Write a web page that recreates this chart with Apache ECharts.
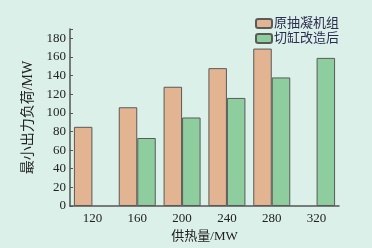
<!DOCTYPE html>
<html><head><meta charset="utf-8">
<script src="https://cdn.jsdelivr.net/npm/echarts@6/dist/echarts.min.js"></script>
<style>html,body{margin:0;padding:0;background:#dcf0ea;}#c{width:372px;height:248px;}</style>
</head><body><div id="c"></div>
<script>
const categories = ['120','160','200','240','280','320'];
const seriesNames = ['原抽凝机组','切缸改造后'];
const original = [85, 106, 128, 148, 169, null];
const retrofit = [null, 73, 95, 116, 138, 159];
const yTicks = [0,20,40,60,80,100,120,140,160,180];

const fontF = '"Liberation Serif","Noto Sans CJK SC",serif';
const chart = echarts.init(document.getElementById('c'));
chart.setOption({
  backgroundColor: '#dcf0ea',
  animation: false,
  textStyle: {fontFamily: fontF},
  legend: {
    data: seriesNames, right: 33, top: 17, orient: 'vertical',
    itemWidth: 16, itemHeight: 9, itemGap: 2, padding: 0,
    textStyle: {fontSize: 13, color: '#2c2c50', fontFamily: fontF, padding: [0,0,0,-3]}
  },
  grid: {left: 70, right: 33, top: 29, bottom: 39},
  xAxis: {
    type: 'category', data: categories,
    name: '供热量/MW', nameLocation: 'middle', nameGap: 24,
    nameTextStyle: {fontSize: 13, color: '#222', fontFamily: fontF},
    axisLine: {lineStyle: {color: '#555', width: 1.5}},
    axisTick: {alignWithLabel: true, inside: true, length: 3, lineStyle: {color: '#555'}},
    axisLabel: {fontSize: 13, color: '#222', margin: 6, fontFamily: fontF}
  },
  yAxis: {
    type: 'value', min: 0, max: 190, interval: 20,
    name: '最小出力负荷/MW', nameLocation: 'middle', nameGap: 28, nameRotate: 90,
    nameTextStyle: {fontSize: 14, color: '#222', fontFamily: fontF},
    axisLine: {show: true, lineStyle: {color: '#555', width: 1.5}},
    axisTick: {show: true, inside: true, length: 3, lineStyle: {color: '#555'}},
    splitLine: {show: false},
    axisLabel: {fontSize: 13, color: '#222', margin: 4, fontFamily: fontF,
      formatter: v => yTicks.includes(v) ? String(v) : ''}
  },
  series: [
    {name: seriesNames[0], type: 'bar', data: original, barWidth: 18.5, barGap: '0%',
     itemStyle: {color: '#e2b492', borderColor: '#5a5a5a', borderWidth: 1}},
    {name: seriesNames[1], type: 'bar', data: retrofit, barWidth: 18.5,
     itemStyle: {color: '#8ecd9e', borderColor: '#5a5a5a', borderWidth: 1}}
  ]
});
</script></body></html>
